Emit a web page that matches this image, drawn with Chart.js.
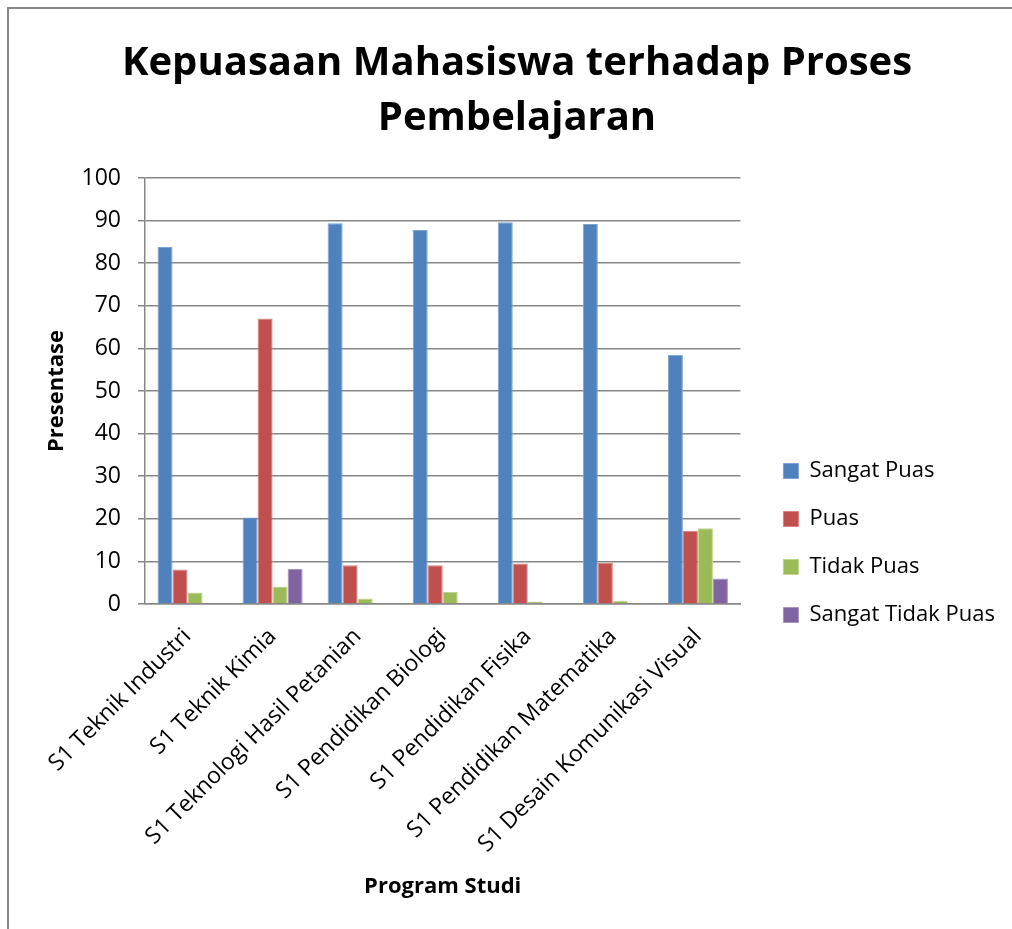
<!DOCTYPE html>
<html>
<head>
<meta charset="utf-8">
<script src="https://cdn.jsdelivr.net/npm/chart.js@4"></script>
<style>
  body { margin: 0; background: #fff; }
  #frame { position: absolute; left: 7px; top: 7px; width: 1100px; height: 1000px; border: 2px solid #898989; }
  #wrap { position: absolute; left: 0; top: 0; width: 1012px; height: 929px; }
</style>
</head>
<body>
<div id="frame"></div>
<div id="wrap"><canvas id="chart" width="1012" height="929"></canvas></div>
<script>
// data
const prodi = ['S1 Teknik Industri', 'S1 Teknik Kimia', 'S1 Teknologi Hasil Petanian', 'S1 Pendidikan Biologi',
  'S1 Pendidikan Fisika', 'S1 Pendidikan Matematika', 'S1 Desain Komunikasi Visual'];
const sangatPuas = [83.8, 20.3, 89.4, 87.8, 89.6, 89.2, 58.5];
const puas = [8.1, 67.0, 9.1, 9.1, 9.5, 9.7, 17.2];
const tidakPuas = [2.7, 4.1, 1.3, 2.8, 0.6, 0.7, 17.8];
const sangatTidakPuas = [0, 8.2, 0, 0, 0, 0, 6.0];

const fontName = "'Open Sans', sans-serif";
const gridColor = '#878787';

const ctx = document.getElementById('chart').getContext('2d');
const chart = new Chart(ctx, {
  type: 'bar',
  data: {
    labels: prodi,
    datasets: [
      { label: 'Sangat Puas', data: sangatPuas, backgroundColor: '#4F81BD', borderColor: '#7DA2D0' },
      { label: 'Puas', data: puas, backgroundColor: '#C0504D', borderColor: '#D9827F' },
      { label: 'Tidak Puas', data: tidakPuas, backgroundColor: '#9BBB59', borderColor: '#BED48E' },
      { label: 'Sangat Tidak Puas', data: sangatTidakPuas, backgroundColor: '#8064A2', borderColor: '#A792BF' }
    ]
  },
  options: {
    responsive: false,
    animation: false,
    categoryPercentage: 0.706,
    barPercentage: 1,
    borderWidth: 1,
    layout: { padding: { left: 29, right: 7, top: 0, bottom: 0 } },
    plugins: {
      title: {
        display: true,
        text: ['Kepuasaan Mahasiswa terhadap Proses', 'Pembelajaran'],
        color: '#000',
        font: { family: fontName, size: 40, weight: 'bold', lineHeight: 1.375 },
        padding: { top: 36, bottom: 32 }
      },
      legend: {
        position: 'right',
        maxWidth: 320,
        title: { display: true, text: ' ', font: { size: 10 }, padding: { top: 145, bottom: 0 } },
        labels: {
          boxWidth: 15,
          boxHeight: 15,
          padding: 26,
          color: '#000',
          font: { family: fontName, size: 22 }
        }
      },
      tooltip: { enabled: false }
    },
    scales: {
      x: {
        grid: { display: false },
        border: { display: true, color: gridColor, width: 1.5 },
        ticks: {
          color: '#000',
          font: { family: fontName, size: 23 },
          maxRotation: 45,
          minRotation: 45,
          padding: 11
        },
        title: {
          display: true,
          text: 'Program Studi',
          color: '#000',
          font: { family: fontName, size: 22, weight: 'bold' },
          padding: { top: 0, bottom: 29 }
        },
        afterFit: function(scale) { scale.height = 325; }
      },
      y: {
        min: 0,
        max: 100,
        ticks: {
          stepSize: 10,
          color: '#000',
          font: { family: fontName, size: 23 },
          padding: 17
        },
        grid: { color: gridColor, lineWidth: 1.5, tickLength: 7 },
        border: { color: gridColor, width: 1.5 },
        title: {
          display: true,
          text: 'Presentase',
          color: '#000',
          font: { family: fontName, size: 22, weight: 'bold' },
          padding: { top: 15, bottom: 0 }
        },
        afterFit: function(scale) { scale.width = 116; }
      },
      gap: {
        position: 'right',
        display: true,
        grid: { display: false },
        border: { display: false },
        ticks: { display: false },
        afterFit: function(scale) { scale.width = 17; }
      }
    }
  }
});
</script>
</body>
</html>
